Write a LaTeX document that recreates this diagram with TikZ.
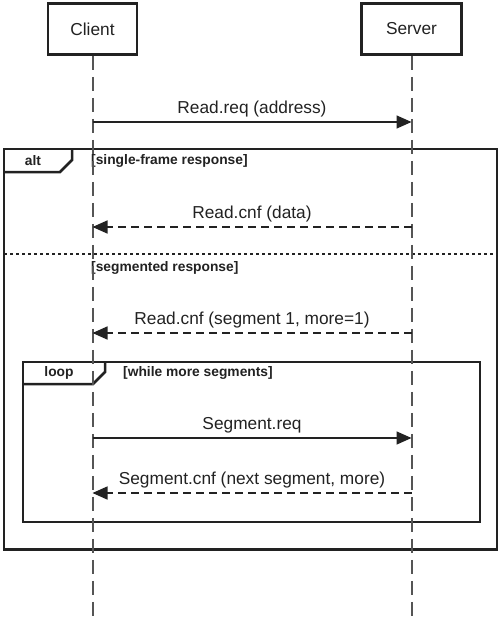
\documentclass[tikz,border=0pt]{standalone}
\usepackage{fontspec}
\setmainfont{Liberation Sans}
\usetikzlibrary{arrows.meta}
\definecolor{ink}{HTML}{222222}
\definecolor{lifegray}{HTML}{555555}
\begin{document}
\begin{tikzpicture}[x=1pt,y=-1pt,
  actor/.style={draw=ink, line width=2.8pt, minimum height=51pt, inner sep=0pt,
    font=\fontsize{17.3}{20}\selectfont, text=ink},
  lifeline/.style={draw=lifegray, line width=2pt, dash pattern=on 14pt off 7pt},
  msg/.style={draw=ink, line width=1.5pt, -{Triangle[length=15pt,width=13pt]}},
  reply/.style={msg, dash pattern=on 8pt off 5pt},
  msglabel/.style={font=\fontsize{17.3}{20}\selectfont, text=ink, anchor=base,
    inner sep=0pt, yshift=9pt},
  umlframe/.style={draw=ink, line width=2.5pt},
  separator/.style={draw=ink, line width=2.3pt, dash pattern=on 3pt off 3pt},
  guard/.style={font=\bfseries\fontsize{13.8}{16}\selectfont, text=ink,
    inner sep=0pt, anchor=west},
  tabtext/.style={font=\bfseries\fontsize{13.8}{16}\selectfont, text=ink, inner sep=0pt},
]
\fill[white] (0,0) rectangle (499,618);
\useasboundingbox (0,0) rectangle (499,618);

% actors
\node[actor, minimum width=89pt] (client) at (92.5,29) {Client};
\node[actor, minimum width=100pt] (server) at (411.5,29) {Server};

% alt frame
\coordinate (altTL) at (4,149);
\coordinate (altBR) at (497,549.5);
\draw[umlframe] (altTL) rectangle (altBR);
\draw[umlframe] (4,172) -- (60,172) -- (72,160) -- (72,149);
\node[tabtext] (altlbl) at (33,160.5) {alt};
\node[guard] (altg1) at (91,160.5) {[single-frame response]};
\draw[separator] (4,254) -- (497,254);
\node[guard] (altg2) at (91,267.5) {[segmented response]};

% loop frame
\coordinate (loopTL) at (23,362);
\coordinate (loopBR) at (480,522);
\draw[umlframe] (loopTL) rectangle (loopBR);
\draw[umlframe] (23,384) -- (93,384) -- (105,372) -- (105,362);
\node[tabtext] (looplbl) at (59,373) {loop};
\node[guard] (loopg) at (123,373) {[while more segments]};

% lifeline ends
\coordinate (cend) at (92.5,618);
\coordinate (send) at (411.5,618);
\draw[lifeline] (client.south) -- (cend);
\draw[lifeline] (server.south) -- (send);

% message anchor points on lifelines
\coordinate (c1) at (92.5,122);  \coordinate (s1) at (411.5,122);
\coordinate (c2) at (92.5,227);  \coordinate (s2) at (411.5,227);
\coordinate (c3) at (92.5,333);  \coordinate (s3) at (411.5,333);
\coordinate (c4) at (92.5,438);  \coordinate (s4) at (411.5,438);
\coordinate (c5) at (92.5,493);  \coordinate (s5) at (411.5,493);

% messages
\draw[msg] (c1) -- node[msglabel] {Read.req (address)} (s1);
\draw[reply] (s2) -- node[msglabel] {Read.cnf (data)} (c2);
\draw[reply] (s3) -- node[msglabel] {Read.cnf (segment 1, more=1)} (c3);
\draw[msg] (c4) -- node[msglabel] {Segment.req} (s4);
\draw[reply] (s5) -- node[msglabel] {Segment.cnf (next segment, more)} (c5);
\end{tikzpicture}
\end{document}
